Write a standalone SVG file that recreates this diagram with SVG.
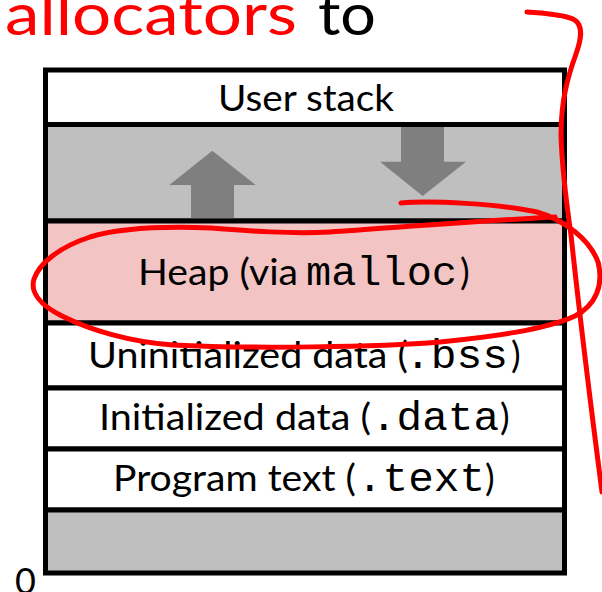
<svg xmlns="http://www.w3.org/2000/svg" width="602" height="592" viewBox="0 0 602 592">
<style>
.seg{stroke:#000;stroke-width:5}
.white{fill:#fff}
.gray{fill:#bfbfbf}
.heap{fill:#f2c4c4}
.sans{font-family:Lato,"Open Sans","Liberation Sans",sans-serif;font-size:36px;fill:#000}
.mono{font-family:"Liberation Mono","DejaVu Sans Mono",monospace;font-size:40px;fill:#000}
.title{font-family:Lato,"Open Sans","Liberation Sans",sans-serif;font-size:58px}
.arrow{fill:#7f7f7f}
.ink{fill:none;stroke:#ff0000;stroke-width:5;stroke-linecap:round;stroke-linejoin:round}
</style>
<rect width="602" height="592" fill="#fff"/>
<g id="title">
<text class="title" x="5" y="35" fill="#ff0000" textLength="292" lengthAdjust="spacingAndGlyphs">allocators</text>
<text class="title" x="318" y="35" fill="#000" textLength="58" lengthAdjust="spacingAndGlyphs">to</text>
</g>
<g id="user-stack">
<rect class="seg white" x="45.5" y="70" width="519" height="54.5"/>
<text class="sans" x="218" y="111" textLength="176" lengthAdjust="spacingAndGlyphs">User stack</text>
</g>
<g id="gap">
<rect class="seg gray" x="45.5" y="124.5" width="519" height="96.5"/>
<polygon class="arrow" points="212.3,150.7 255.7,185 234,185 234,219 191,219 191,185 169.3,185"/>
<polygon class="arrow" points="401,127 444,127 444,161.7 466,161.7 422.7,196 380,161.7 401,161.7"/>
</g>
<g id="heap">
<rect class="seg heap" x="45.5" y="221" width="519" height="102"/>
<text class="sans" x="138" y="285" textLength="160" lengthAdjust="spacingAndGlyphs">Heap (via</text>
<text class="mono" x="306" y="285" textLength="151" lengthAdjust="spacingAndGlyphs">malloc</text>
<text class="sans" x="460" y="285">)</text>
</g>
<g id="bss">
<rect class="seg white" x="45.5" y="323" width="519" height="65"/>
<text class="sans" x="88" y="368" textLength="320" lengthAdjust="spacingAndGlyphs">Uninitialized data (</text>
<text class="mono" x="405" y="368" textLength="103" lengthAdjust="spacingAndGlyphs">.bss</text>
<text class="sans" x="511" y="368">)</text>
</g>
<g id="data">
<rect class="seg white" x="45.5" y="388" width="519" height="61"/>
<text class="sans" x="99" y="430" textLength="272" lengthAdjust="spacingAndGlyphs">Initialized data (</text>
<text class="mono" x="371" y="430" textLength="128" lengthAdjust="spacingAndGlyphs">.data</text>
<text class="sans" x="500" y="430">)</text>
</g>
<g id="text">
<rect class="seg white" x="45.5" y="449" width="519" height="61"/>
<text class="sans" x="113" y="491" textLength="243" lengthAdjust="spacingAndGlyphs">Program text (</text>
<text class="mono" x="357" y="491" textLength="128" lengthAdjust="spacingAndGlyphs">.text</text>
<text class="sans" x="485" y="491">)</text>
</g>
<g id="bottom">
<rect class="seg gray" x="45.5" y="510" width="519" height="63"/>
<text class="sans" x="15" y="594">0</text>
</g>
<g id="connectors">
<path class="ink" d="M401,203 C430,200 500,204 537,212 C565,220 590,240 598,262 C604,285 596,305 575,316 C545,330 490,337 440,342 C380,347 250,349 173,345 C130,342 90,330 62,316 C40,305 30,292 34,279 C40,262 60,247 90,237 C120,228 160,226 211,228 C250,231 290,234 330,232 C380,229 460,222 555,217"/>
<path class="ink" d="M527,12 L541,13 C556,15 571,16 577,22 C583,29 581,40 576,54 C568,76 561,100 561,135 C562,170 566,200 571,235 C578,300 590,400 602,492"/>
</g>
</svg>
